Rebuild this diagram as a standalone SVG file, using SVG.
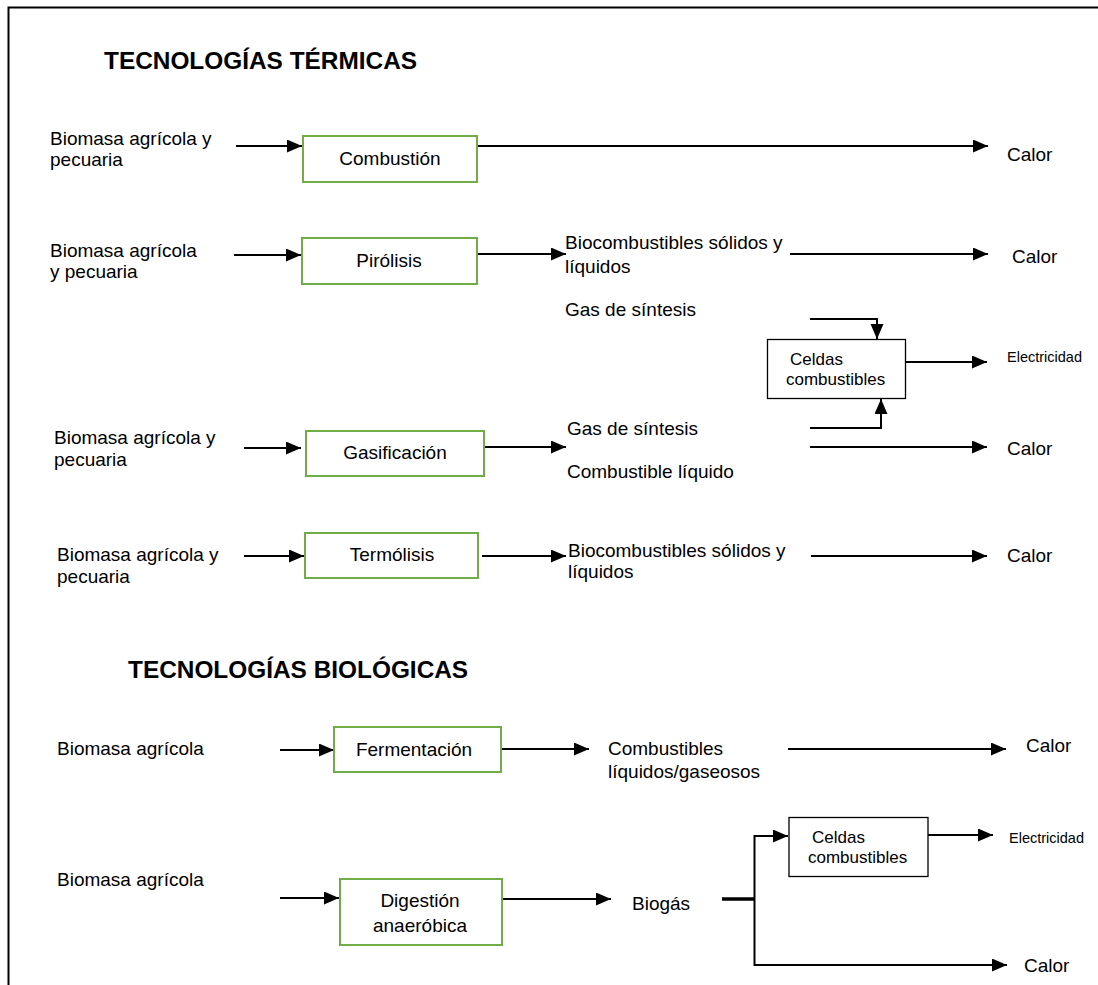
<svg xmlns="http://www.w3.org/2000/svg" width="1098" height="985" viewBox="0 0 1098 985">
<style>
text{font-family:"Liberation Sans",Arial,sans-serif;fill:#000}
.t{font-size:19px}
.h{font-size:24.4px;font-weight:bold}
.s{font-size:14.5px}
.c{font-size:17px}
.m{text-anchor:middle}
.g{fill:#fff;stroke:#70AD47;stroke-width:2}
.b{fill:#fff;stroke:#000;stroke-width:1.3}
.ln{fill:none;stroke:#000;stroke-width:2}
</style>
<defs>
<marker id="ah" markerUnits="userSpaceOnUse" markerWidth="16" markerHeight="14" refX="15" refY="6.5" orient="auto">
<path d="M0,0 L15,6.5 L0,13 z" fill="#000"/>
</marker>
</defs>
<rect width="1098" height="985" fill="#fff"/>
<g id="frame"><path d="M8.5,985 L8.5,7.5 L1098,7.5" fill="none" stroke="#000" stroke-width="2"/></g>

<g id="titles">
<text class="h" x="104" y="69">TECNOLOGÍAS TÉRMICAS</text>
<text class="h" x="128" y="678">TECNOLOGÍAS BIOLÓGICAS</text>
</g>

<g id="connectors" class="ln">
<line x1="236" y1="146" x2="302" y2="146" marker-end="url(#ah)"/>
<line x1="477" y1="146" x2="988" y2="146" marker-end="url(#ah)"/>
<line x1="234" y1="255" x2="301" y2="255" marker-end="url(#ah)"/>
<line x1="477" y1="254" x2="566" y2="254" marker-end="url(#ah)"/>
<line x1="790" y1="254" x2="988" y2="254" marker-end="url(#ah)"/>
<polyline points="810,319 877,319 877,339" marker-end="url(#ah)"/>
<polyline points="810,428 881,428 881,399" marker-end="url(#ah)"/>
<line x1="905" y1="362" x2="987" y2="362" marker-end="url(#ah)"/>
<line x1="244" y1="448" x2="301" y2="448" marker-end="url(#ah)"/>
<line x1="484" y1="447" x2="566" y2="447" marker-end="url(#ah)"/>
<line x1="810" y1="447" x2="987" y2="447" marker-end="url(#ah)"/>
<line x1="244" y1="556" x2="304" y2="556" marker-end="url(#ah)"/>
<line x1="482" y1="556" x2="566" y2="556" marker-end="url(#ah)"/>
<line x1="811" y1="556" x2="987" y2="556" marker-end="url(#ah)"/>
<line x1="280" y1="750" x2="334" y2="750" marker-end="url(#ah)"/>
<line x1="502" y1="749" x2="589" y2="749" marker-end="url(#ah)"/>
<line x1="788" y1="749" x2="1006" y2="749" marker-end="url(#ah)"/>
<line x1="280" y1="898" x2="339" y2="898" marker-end="url(#ah)"/>
<line x1="502" y1="899" x2="611" y2="899" marker-end="url(#ah)"/>
<line x1="722" y1="899" x2="755" y2="899" stroke-width="3.5"/>
<polyline points="754.5,899 754.5,836 788,836" marker-end="url(#ah)"/>
<polyline points="754.5,899 754.5,965 1007,965" marker-end="url(#ah)"/>
<line x1="928" y1="835" x2="993" y2="835" marker-end="url(#ah)"/>
</g>

<g id="n-combustion">
<text class="t" x="50" y="145">Biomasa agrícola y</text>
<text class="t" x="50" y="166">pecuaria</text>
<rect class="g" x="303" y="136" width="174" height="46"/>
<text class="t m" x="390" y="165">Combustión</text>
<text class="t" x="1007" y="161">Calor</text>
</g>

<g id="n-pirolisis">
<text class="t" x="50" y="257">Biomasa agrícola</text>
<text class="t" x="50" y="278">y pecuaria</text>
<rect class="g" x="302" y="238" width="175" height="46"/>
<text class="t m" x="389" y="267">Pirólisis</text>
<text class="t" x="565" y="249">Biocombustibles sólidos y</text>
<text class="t" x="565" y="273">líquidos</text>
<text class="t" x="1012" y="263">Calor</text>
<text class="t" x="565" y="316">Gas de síntesis</text>
</g>

<g id="n-celdas1">
<rect class="b" x="767.5" y="339.5" width="138" height="59"/>
<text class="c" x="790" y="365">Celdas</text>
<text class="c" x="786" y="385">combustibles</text>
<text class="s" x="1007" y="362">Electricidad</text>
</g>

<g id="n-gasificacion">
<text class="t" x="54" y="444">Biomasa agrícola y</text>
<text class="t" x="54" y="466">pecuaria</text>
<rect class="g" x="306" y="431" width="178" height="45"/>
<text class="t m" x="395" y="459">Gasificación</text>
<text class="t" x="567" y="435">Gas de síntesis</text>
<text class="t" x="567" y="478">Combustible líquido</text>
<text class="t" x="1007" y="455">Calor</text>
</g>

<g id="n-termolisis">
<text class="t" x="57" y="561">Biomasa agrícola y</text>
<text class="t" x="57" y="583">pecuaria</text>
<rect class="g" x="305" y="533" width="173" height="45"/>
<text class="t m" x="392" y="561">Termólisis</text>
<text class="t" x="568" y="557">Biocombustibles sólidos y</text>
<text class="t" x="568" y="578">líquidos</text>
<text class="t" x="1007" y="562">Calor</text>
</g>

<g id="n-fermentacion">
<text class="t" x="57" y="755">Biomasa agrícola</text>
<rect class="g" x="334" y="727" width="167" height="45"/>
<text class="t m" x="414" y="756">Fermentación</text>
<text class="t" x="608" y="755">Combustibles</text>
<text class="t" x="608" y="778">líquidos/gaseosos</text>
<text class="t" x="1026" y="752">Calor</text>
</g>

<g id="n-digestion">
<text class="t" x="57" y="886">Biomasa agrícola</text>
<rect class="g" x="340" y="879" width="162" height="66"/>
<text class="t m" x="420" y="907">Digestión</text>
<text class="t m" x="420" y="932">anaeróbica</text>
<text class="t" x="632" y="910">Biogás</text>
</g>

<g id="n-celdas2">
<rect class="b" x="789" y="817.5" width="139" height="59"/>
<text class="c" x="812" y="843">Celdas</text>
<text class="c" x="808" y="863">combustibles</text>
<text class="s" x="1009" y="843">Electricidad</text>
<text class="t" x="1024" y="972">Calor</text>
</g>
</svg>
